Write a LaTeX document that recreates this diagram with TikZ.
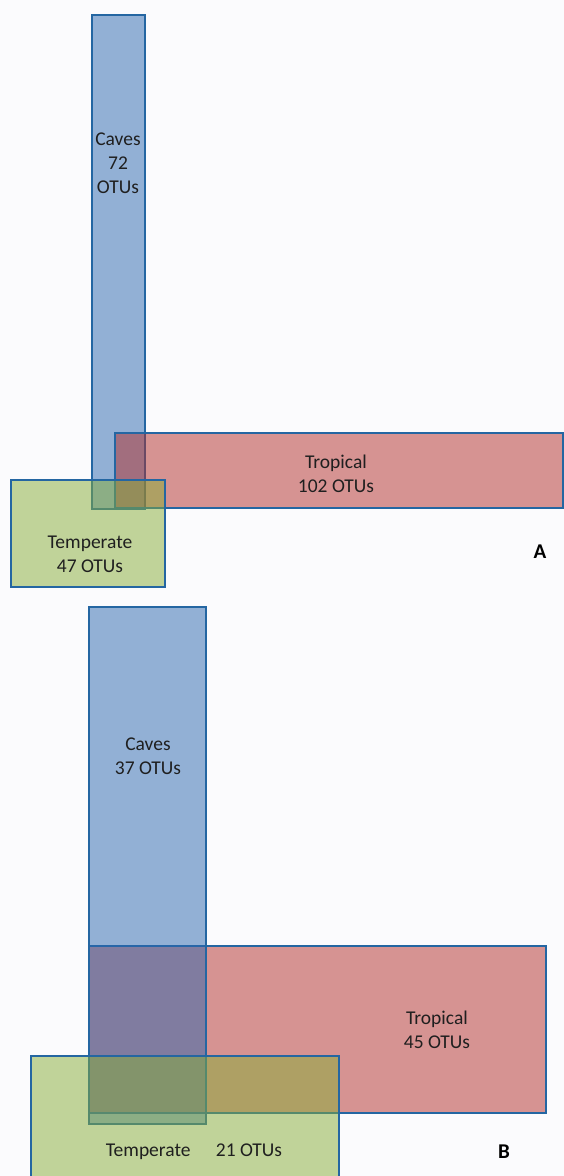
\documentclass[tikz,border=0pt]{standalone}
\usepackage{fontspec}
\setmainfont{Carlito}
\usetikzlibrary{positioning}
\definecolor{cavesblue}{RGB}{43,103,175}
\definecolor{tropred}{RGB}{179,45,41}
\definecolor{tempgreen}{RGB}{135,173,55}
\definecolor{setline}{RGB}{36,102,162}
\definecolor{paper}{RGB}{251,251,253}

\begin{document}
\begin{tikzpicture}[
    x=1pt, y=-1pt,
    set/.style={rectangle, draw=setline, line width=2.8pt, fill opacity=0.5, inner sep=0pt, outer sep=0pt, anchor=north west},
    caves/.style={set, fill=cavesblue},
    tropical/.style={set, fill=tropred},
    temperate/.style={set, fill=tempgreen},
    lbl/.style={align=center, font=\fontsize{19.5}{24}\selectfont, text=black!88},
    panel/.style={font=\fontsize{21}{24}\selectfont\bfseries}
]
    \fill[paper] (0,0) rectangle (564,1176);
    \useasboundingbox (0,0) rectangle (564,1176);

    % Panel A
    \node[caves, minimum width=53pt, minimum height=494pt] (cavesA) at (92,15) {};
    \node[tropical, minimum width=448pt, minimum height=75pt] (tropA) at (115,433) {};
    \node[temperate, minimum width=154pt, minimum height=107pt] (tempA) at (11,480) {};

    \node[lbl] (cavesAlbl) at (118,163) {Caves\\72\\OTUs};
    \node[lbl] (tropAlbl) at (336,474) {Tropical\\102 OTUs};
    \node[lbl] (tempAlbl) at (90,554) {Temperate\\47 OTUs};
    \node[panel] (labA) at (540,552) {A};

    % Panel B
    \node[tropical, minimum width=457pt, minimum height=167pt] (tropB) at (89,946) {};
    \node[caves, minimum width=117pt, minimum height=517pt] (cavesB) at (89,607) {};
    \node[temperate, minimum width=308pt, minimum height=135pt] (tempB) at (31,1056) {};

    \node[lbl] (cavesBlbl) at (148,756) {Caves\\37 OTUs};
    \node[lbl] (tropBlbl) at (437,1030) {Tropical\\45 OTUs};
    \node[lbl] (tempBlbl) at (194,1152) {Temperate\hspace{1.3em}21 OTUs};
    \node[panel] (labB) at (504,1152) {B};
\end{tikzpicture}
\end{document}
